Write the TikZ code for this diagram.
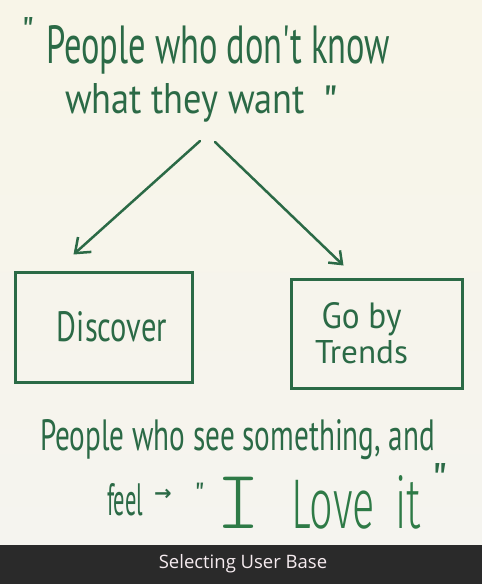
\documentclass[tikz,border=0pt]{standalone}
\usepackage{fontspec}
\setmainfont{PT Sans}
\newfontfamily\handfont{PT Sans}
\newfontfamily\thinfont{Fira Sans Light}
\newfontfamily\symfont{DejaVu Sans}
\newfontfamily\captionfont{Open Sans}
\usetikzlibrary{arrows.meta,calc}

\definecolor{board}{HTML}{F8F5E8}
\definecolor{boardlow}{HTML}{F5F4EF}
\definecolor{ink}{HTML}{2B6A46}
\definecolor{inkbright}{HTML}{2E7A46}
\definecolor{bar}{HTML}{2A2A2A}
\definecolor{captext}{HTML}{F6ECF0}

% marker lettering squeezed into a given width and height
\newcommand\marker[3]{\resizebox{#1}{#2}{\handfont\fontsize{40}{40}\selectfont #3}}

\tikzset{
  hand/.style={text=ink, inner sep=0pt, outer sep=0pt},
  quotemark/.style={hand, anchor=base west},
  framebox/.style={draw=ink, line width=3pt, inner sep=0pt, text=ink,
    align=center, font=\fontsize{30}{35}\selectfont},
  penarrow/.style={draw=ink, line width=2.5pt, line cap=round,
    -{Straight Barb[length=13pt,width=20pt,line width=2.5pt]}},
}

\begin{document}
\begin{tikzpicture}[x=1pt,y=-1pt]
\useasboundingbox (0,0) rectangle (482,584);

% whiteboard and caption strip
\shade[top color=board, bottom color=boardlow] (0,0) rectangle (482,545);
\fill[bar] (0,545) rectangle (482,584);
\node[text=captext, font=\captionfont\fontsize{18.5}{18.5}\selectfont, inner sep=0pt]
  (caption) at (243,564) {Selecting User Base};

% heading quote
\node[quotemark, font=\handfont\fontsize{40}{40}\selectfont] (q1) at (21,45) {"};
\node[hand, anchor=base west] (head1) at (46,63)
  {\marker{344pt}{38pt}{People who don't know}};
\node[hand, anchor=base west] (head2) at (65,113)
  {\marker{240pt}{30pt}{what they want}};
\node[quotemark, font=\handfont\fontsize{48}{48}\selectfont] (q2) at (322,119) {"};

% the two choices
\node[framebox, minimum width=177pt, minimum height=110pt] (discover)
  at (103.5,327) {\hspace*{17pt}\raisebox{2pt}{\marker{110pt}{30pt}{Discover}}};
\node[framebox, minimum width=171pt, minimum height=109pt] (trends)
  at (376.5,333.5)
  {\marker{80pt}{26pt}{Go by}\hspace*{30pt}\\\marker{93pt}{23pt}{Trends}\hspace*{30pt}};

% arrows from the heading
\coordinate (forkL) at (200,141);
\coordinate (forkR) at (215,142);
\coordinate (tipL) at ($(discover.north west)+(60,-16)$);
\coordinate (tipR) at ($(trends.north west)+(54,-12)$);
\draw[penarrow] (forkL) -- (tipL);
\draw[penarrow, -{Straight Barb[length=11pt,width=17pt,line width=2.5pt]}] (forkR) -- (tipR);

% lower note
\node[hand, anchor=base west] (note1) at (40,450)
  {\marker{395pt}{31pt}{People who see something, and}};
\node[hand, anchor=base west] (feel) at (107,515) {\marker{36pt}{32pt}{feel}};
\node[hand, font=\symfont\bfseries\fontsize{21}{21}\selectfont] (to) at (163,495) {→};
\node[quotemark, font=\handfont\fontsize{32}{32}\selectfont] (q3) at (194,505) {"};
\node[hand, text=inkbright, anchor=base west] (love) at (216,528)
  {{\ttfamily\fontseries{l}\fontsize{84}{84}\selectfont I}%
   \hspace{31pt}%
   \resizebox{130pt}{53pt}{\thinfont\fontsize{40}{40}\selectfont Love\hspace{0.5em}it}};
\node[quotemark, font=\handfont\fontsize{50}{50}\selectfont] (q4) at (431,498) {"};
\end{tikzpicture}
\end{document}
